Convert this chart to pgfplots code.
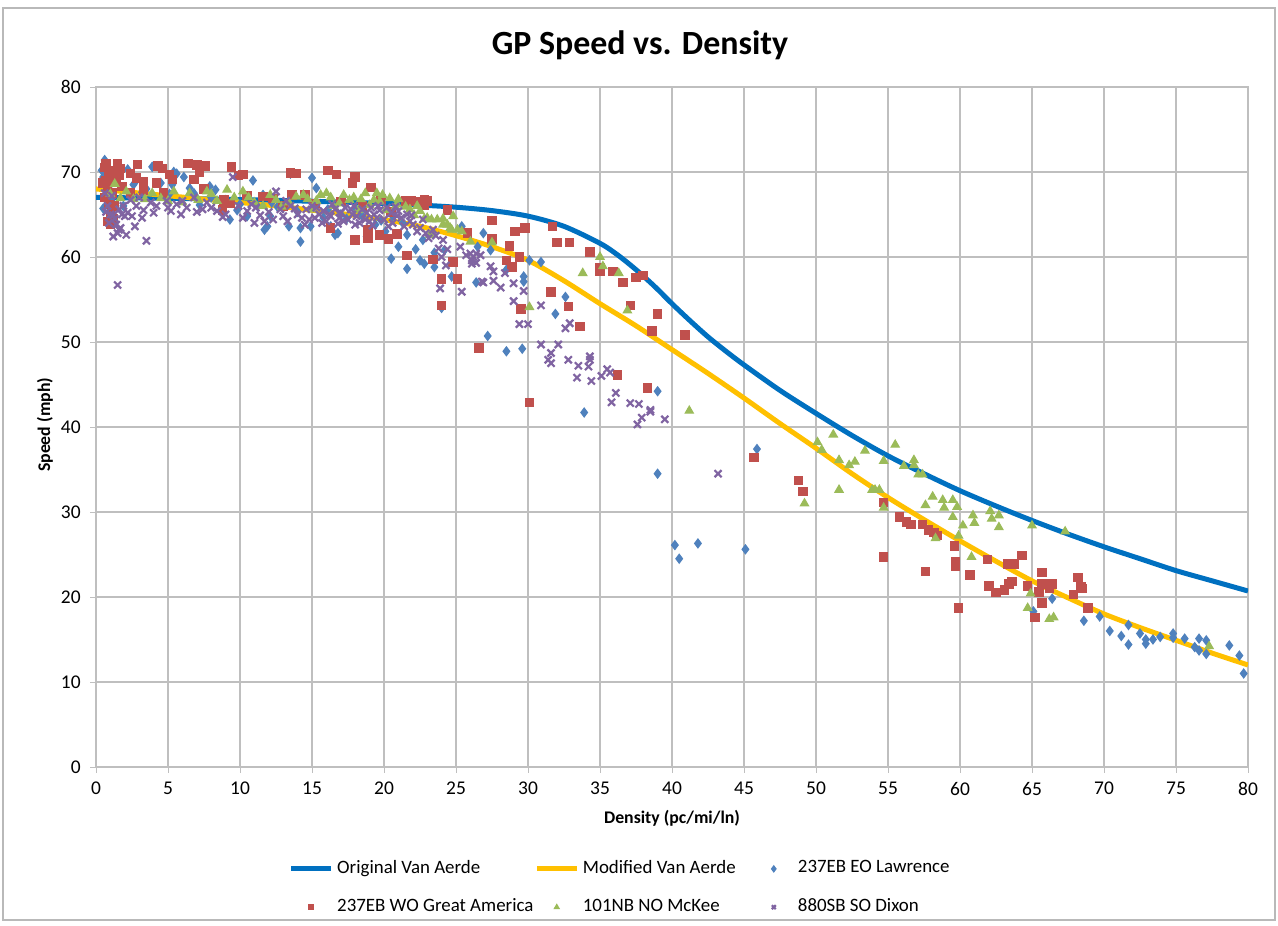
\documentclass[border=0pt]{standalone}
\usepackage{pgfplots}
\pgfplotsset{compat=1.18}
\usepackage{fontspec}
\setmainfont{Carlito}

\definecolor{vablue}{RGB}{0,112,192}
\definecolor{vagold}{RGB}{255,192,0}
\definecolor{lawblue}{RGB}{79,129,189}
\definecolor{gared}{RGB}{192,80,77}
\definecolor{mkgreen}{RGB}{155,187,89}
\definecolor{dxpurple}{RGB}{128,100,162}
\definecolor{gridgray}{RGB}{191,191,191}

\begin{document}
\begin{tikzpicture}
\path[use as bounding box] (-34.56pt,-57.2pt) rectangle (425.5pt,276.1pt);
\begin{axis}[
  scale only axis, width=414.7pt, height=244.8pt,
  at={(0pt,0pt)}, anchor=south west,
  xmin=0, xmax=80, ymin=0, ymax=80,
  xtick={0,5,...,80}, ytick={0,10,...,80},
  grid=major, grid style={gridgray, line width=0.5pt},
  axis line style={gridgray, line width=0.5pt},
  tick align=outside, major tick length=2pt, tick style={gridgray},
  xtick pos=bottom, ytick pos=left,
  /pgf/number format/assume math mode=true,
  tick label style={font=\fontsize{7}{8}\selectfont},
  xlabel={Density (pc/mi/ln)}, ylabel={Speed (mph)},
  xlabel style={font=\fontsize{6.4}{7}\selectfont\bfseries, at={(axis description cs:0.5,-0.075)}, anchor=center},
  ylabel style={font=\fontsize{6.4}{7}\selectfont\bfseries, at={(axis description cs:-0.0443,0.503)}, anchor=center},
  title={GP Speed vs. Density},
  title style={font=\fontsize{12.2}{14}\selectfont\bfseries, at={(axis description cs:0.4722,1.0617)}, anchor=center, yshift=-6pt},
  legend columns=3, legend cell align=left,
  legend style={draw=none, fill=none, at={(axis description cs:0.1667,-0.178)}, anchor=west,
    font=\fontsize{6.8}{8.2}\selectfont, row sep=3.6pt, inner xsep=0pt,
    nodes={inner xsep=0.3pt},
    /tikz/every even column/.append style={column sep=0pt},
    /tikz/every odd column/.append style={column sep=1.0pt}},
]
% fitted curves
\addplot[vablue, line width=1.8pt, smooth, no markers,
  legend image code/.code={\draw[line width=1.8pt] (0pt,0pt)--(14.4pt,0pt);}]
  coordinates {(0,67.0)(5,66.9)(10,66.75)(15,66.55)(20,66.3)(22.5,66.1)(25,65.85)(27.5,65.45)
  (30,64.8)(32.5,63.6)(35,61.6)(36.25,60.2)(37.5,58.5)(38.75,56.6)(40,54.5)(41.25,52.5)
  (42.5,50.6)(43.75,48.9)(45,47.3)(47.5,44.3)(50,41.6)(52.5,39.0)(55,36.6)(57.5,34.5)
  (60,32.5)(62.5,30.7)(65,29.0)(67.5,27.4)(70,25.9)(72.5,24.5)(75,23.1)(77.5,21.9)(80,20.7)};
\addlegendentry{Original Van Aerde}
\addplot[vagold, line width=1.8pt, smooth, no markers,
  legend image code/.code={\draw[line width=1.8pt] (0pt,0pt)--(14.4pt,0pt);}]
  coordinates {(0,68.0)(2.5,67.6)(5,67.2)(7.5,66.8)(10,66.4)(12.5,66.0)(15,65.5)(17.5,65.0)
  (20,64.4)(22.5,63.6)(25,62.5)(27.5,61.2)(30,59.6)(32.5,57.2)(35,54.5)(37.5,51.9)(40,49.1)
  (42.5,46.3)(45,43.4)(47.5,40.4)(50,37.5)(52.5,34.5)(55,31.7)(57.5,29.1)(60,26.6)(62.5,24.2)
  (65,21.9)(67.5,19.9)(70,18.0)(72.5,16.4)(75,14.9)(77.5,13.4)(80,12.0)};
\addlegendentry{Modified Van Aerde\rule{6pt}{0pt}}
% 237EB EO Lawrence
\addplot[only marks, mark=diamond*, mark size=1.6pt, color=lawblue,
  legend image code/.code={\path (0pt,0pt) (14.4pt,0pt);\draw[mark size=1.1pt] plot coordinates {(7.2pt,0pt)};}]
  coordinates {(0.6,71.4)(0.4,70.2)(0.5,69.4)(0.5,65.7)(0.9,68.3)(0.7,67.2)(1.1,66.5)(1.3,69.2)
  (1.9,66.0)(2.2,70.3)(2.8,69.0)(3.2,67.6)(3.9,70.6)(4.5,68.7)(5.1,67.4)(5.4,70.0)(5.6,69.8)
  (6.1,69.4)(5.3,68.5)(6.5,68.1)(7.0,66.9)(7.9,68.3)(8.3,67.9)(7.2,66.1)(8.8,66.4)(9.3,64.4)
  (9.8,65.5)(10.5,64.8)(10.9,69.0)(11.6,67.3)(11.9,63.6)(11.7,63.2)(12.1,64.8)(12.6,65.9)
  (13.5,69.8)(13.4,63.6)(14.2,61.8)(14.2,63.4)(14.9,63.6)(15.0,69.3)(15.3,68.1)(15.8,64.6)
  (16.3,63.6)(16.6,62.6)(16.8,62.8)(17.4,64.5)(18.0,65.8)(18.8,62.4)(19.4,63.8)(20.1,63.0)
  (16.1,65.6)(17.0,65.0)(18.5,64.8)(19.8,64.3)(20.6,64.8)(21.3,64.0)(14.0,65.3)(13.0,65.8)
  (12.2,66.4)(11.2,66.0)(10.0,66.2)(9.0,66.7)(8.0,67.0)(6.8,67.5)(3.5,68.0)(2.6,68.5)
  (20.5,59.8)(21.0,61.2)(21.6,58.6)(21.6,62.6)(22.2,60.9)(22.5,59.6)(22.7,62.0)(22.8,59.2)
  (23.5,58.8)(23.5,60.5)(24.2,60.8)(24.0,54.0)(24.7,57.7)(25.4,63.6)(26.5,61.2)(26.4,57.0)
  (26.9,62.8)(27.4,60.8)(27.2,50.7)(28.5,58.5)(28.5,48.9)(29.6,49.2)(29.7,57.7)(29.7,57.1)
  (30.1,59.6)(30.9,59.4)(31.9,53.3)(32.6,55.3)(33.9,41.7)(39.0,44.2)(39.0,34.5)(40.2,26.1)
  (40.5,24.5)(41.8,26.3)(45.1,25.6)(45.9,37.4)
  (65.1,18.3)(66.4,19.8)(68.6,17.2)(69.7,17.7)(70.4,16.0)(71.2,15.4)(71.7,16.7)(71.7,14.4)
  (72.5,15.7)(72.9,15.0)(72.9,14.5)(73.4,15.0)(73.9,15.3)(74.8,15.7)(74.8,15.2)(75.6,15.1)
  (76.3,14.1)(76.6,15.1)(76.6,13.7)(77.1,14.9)(77.1,13.3)(78.7,14.3)(79.4,13.1)(79.7,11.0)};
\addlegendentry{237EB EO Lawrence}
% 237EB WO Great America
\addplot[only marks, mark=square*, mark size=1.5pt, color=gared,
  legend image code/.code={\path (0pt,0pt) (14.4pt,0pt);\draw[mark size=0.9pt] plot coordinates {(7.2pt,0pt)};}]
  coordinates {(0.6,70.5)(0.7,69.0)(0.8,68.0)(0.6,67.0)(0.9,66.2)(1.0,65.0)(0.8,64.2)(1.2,70.2)
  (1.4,68.8)(1.1,67.5)(1.3,66.0)(1.6,69.6)(1.5,71.0)(1.8,68.3)(0.7,71.0)(1.0,63.8)
  (0.5,68.7)(1.2,64.5)(0.9,69.6)(1.7,70.4)
  (2.4,69.8)(2.8,69.3)(2.9,70.9)(3.3,68.9)(4.2,68.7)(4.3,70.7)(4.6,70.4)(5.1,69.7)(5.3,69.1)
  (3.3,67.9)(2.4,67.5)(4.7,67.5)(6.4,71.0)(7.0,70.8)(7.6,70.7)(7.2,70.0)(6.8,69.1)(7.5,68.0)
  (8.9,66.7)(8.8,65.5)(9.3,66.3)(9.4,70.6)(9.9,69.6)(10.2,69.7)(11.6,67.1)(12.3,66.9)
  (13.5,69.9)(13.9,69.8)(13.6,67.3)(14.5,67.3)(16.1,70.2)(16.7,69.7)(18.0,69.4)(17.8,68.7)
  (19.1,68.2)(16.3,63.4)(18.0,62.0)(18.9,62.2)(19.7,62.6)(18.9,63.2)(20.9,62.7)(20.3,62.1)
  (15.2,66.3)(17.0,66.5)(18.5,66.0)(19.8,66.8)(20.5,65.3)(13.0,66.0)(10.5,67.2)
  (21.5,66.6)(21.9,66.6)(22.3,66.5)(22.8,66.7)(22.8,66.1)(23.0,66.6)(24.4,65.5)(21.6,60.2)
  (23.4,59.7)(24.0,57.4)(25.1,57.4)(24.0,54.3)(24.8,59.4)(25.8,62.8)(27.5,64.3)(27.5,62.1)
  (28.7,61.3)(28.5,59.6)(28.9,58.8)(29.4,60.0)(29.1,63.0)(29.8,63.4)(31.7,63.6)(32.0,61.7)
  (32.9,61.7)(31.6,55.9)(32.8,54.2)(33.6,51.8)(34.3,60.6)(35.0,58.7)(35.0,58.3)(35.9,58.3)
  (36.6,57.0)(37.5,57.6)(38.0,57.8)(37.1,54.3)(39.0,53.3)(38.6,51.3)(40.9,50.8)(36.2,46.1)
  (38.3,44.6)(30.1,42.9)(26.6,49.3)(29.5,53.9)(45.7,36.4)(48.8,33.7)(49.1,32.4)(54.7,31.1)
  (54.7,24.7)(55.8,29.4)(56.3,28.8)(56.6,28.5)(57.4,28.5)(57.8,27.9)(58.2,27.6)(58.4,27.2)
  (57.6,23.0)(59.6,26.0)(59.7,24.1)(59.7,23.6)(59.9,18.7)(60.7,22.6)(61.9,24.4)(62.0,21.3)
  (62.5,20.5)(63.1,20.8)(63.4,21.5)(63.6,21.8)(63.3,23.9)(63.8,23.9)(64.3,24.9)(64.7,21.3)
  (65.2,17.6)(65.5,20.6)(65.7,22.9)(65.7,21.5)(65.7,19.3)(66.2,21.0)(66.4,21.5)(67.9,20.3)
  (68.2,22.3)(68.4,21.2)(68.5,21.0)(68.9,18.7)};
\addlegendentry{237EB WO Great America}
% 101NB NO McKee
\addplot[only marks, mark=triangle*, mark size=1.7pt, color=mkgreen,
  legend image code/.code={\path (0pt,0pt) (14.4pt,0pt);\draw[mark size=1.0pt] plot coordinates {(7.2pt,0pt)};}]
  coordinates {(1.3,68.6)(1.0,67.4)(2.1,67.7)(2.6,66.8)(3.9,67.5)(4.5,66.9)(5.4,67.7)(6.0,66.4)
  (6.5,67.5)(7.7,67.7)(8.4,66.6)(9.1,67.9)(10.2,67.7)(11.0,66.4)(12.1,67.3)(12.9,65.9)
  (13.9,67.1)(14.4,67.3)(15.0,65.6)(15.6,67.3)(16.0,67.5)(16.5,66.0)(17.2,67.3)(17.6,66.7)
  (18.2,65.5)(18.7,67.5)(19.5,67.5)(19.3,66.7)(19.9,67.3)(20.1,65.5)(20.8,65.9)(20.9,66.2)
  (15.3,66.6)(16.3,67.0)(16.9,66.3)(17.9,67.0)(18.4,66.8)(19.0,66.1)(19.7,66.5)(20.4,66.9)
  (21.0,66.8)(21.8,65.6)(22.3,66.0)(14.7,66.8)(13.4,66.4)(12.5,66.7)(11.6,66.0)(10.6,67.0)
  (9.6,67.0)(8.0,67.4)(7.1,66.7)(5.0,66.6)(3.4,66.8)(1.7,66.9)
  (21.5,65.9)(22.1,64.9)(22.5,65.4)(22.8,64.5)(23.0,64.6)(23.3,64.4)(23.7,64.4)(24.1,64.5)
  (24.1,63.8)(24.4,63.8)(24.6,63.4)(24.7,63.2)(24.8,64.8)(25.1,63.2)(25.4,63.0)(23.2,62.6)
  (26.0,61.8)(27.5,61.7)(30.1,54.1)(33.8,58.1)(35.0,60.0)(35.2,58.9)(36.3,58.1)(36.9,53.7)
  (41.2,41.9)(49.2,31.0)
  (50.1,38.2)(50.4,37.3)(51.2,39.1)(51.6,36.1)(51.6,32.6)(52.3,35.5)(52.7,35.9)(53.4,37.2)
  (53.9,32.6)(54.1,32.6)(54.4,32.6)(54.7,36.0)(54.7,30.5)(55.5,37.9)(56.1,35.4)(56.8,36.1)
  (56.8,35.5)(57.1,34.4)(57.4,34.4)(57.6,30.8)(58.1,31.8)(58.3,26.9)(58.8,31.4)(58.9,30.5)
  (59.5,31.4)(59.8,30.6)(59.5,29.4)(59.9,27.2)(60.2,28.4)(60.9,29.6)(61.0,28.7)(60.8,24.7)
  (62.1,30.1)(62.2,29.2)(62.7,29.6)(62.7,28.2)(65.0,28.4)(64.9,20.4)(64.7,18.7)(66.2,17.4)
  (66.5,17.6)(67.3,27.7)(77.3,14.2)};
\addlegendentry{101NB NO McKee}
% 880SB SO Dixon
\addplot[only marks, mark=x, mark size=1.8pt, color=dxpurple, mark options={line width=0.8pt},
  legend image code/.code={\path (0pt,0pt) (14.4pt,0pt);\draw[mark size=1.0pt] plot coordinates {(7.2pt,0pt)};}]
  coordinates {(0.6,67.5)(0.8,66.0)(1.0,65.0)(1.2,64.9)(1.4,63.8)(1.7,63.4)(1.3,64.5)(1.9,66.0)
  (1.1,67.2)(1.6,65.6)(2.0,64.8)(2.4,66.7)(2.2,65.2)(2.8,66.0)(3.3,65.5)(3.0,67.0)(3.5,61.9)
  (1.5,56.7)(0.9,64.0)(1.5,62.8)(1.6,63.2)(1.8,65.0)(2.5,64.8)(4.0,65.2)(5.9,65.0)
  (4.2,66.0)(4.9,66.6)(5.6,66.2)(5.2,65.4)(6.3,65.8)(6.8,67.0)(7.4,65.6)(7.7,66.4)(8.4,65.4)
  (9.0,65.0)(9.5,69.4)(9.9,66.0)(10.5,65.4)(11.1,65.8)(11.7,64.2)(12.5,67.7)(12.0,65.3)
  (13.0,64.8)(13.5,66.0)(14.0,65.0)(14.6,65.6)(15.2,64.6)(15.8,65.4)(16.3,64.8)(16.6,65.6)
  (17.0,65.2)(17.5,64.4)(18.1,64.8)(18.5,65.6)(19.0,64.2)(19.3,65.0)(19.7,65.5)(20.0,64.4)
  (20.5,65.2)(20.9,64.8)(21.4,63.6)(21.8,64.2)(22.3,63.0)(22.7,64.4)(23.1,62.2)(23.4,63.2)
  (15.5,65.0)(16.0,64.2)(16.9,64.6)(17.3,65.8)(17.8,65.0)(18.3,64.0)(18.8,65.2)(19.5,64.6)
  (20.2,65.8)(21.0,65.4)(14.8,64.4)(15.0,66.0)(16.4,66.2)(17.9,66.0)(19.1,65.8)(20.6,64.0)
  (21.6,65.0)(22.0,63.8)
  (10.2,64.6)(10.8,66.2)(11.4,64.9)(12.3,64.4)(12.8,65.6)(13.3,64.2)(13.8,65.7)(14.3,64.6)
  (15.3,65.8)(15.7,64.0)(16.2,65.0)(16.8,63.9)(17.2,64.2)(17.7,65.6)(18.0,63.8)(18.7,64.4)
  (19.2,63.7)(19.6,66.0)(20.3,63.6)(20.8,65.9)(21.2,64.6)(21.9,64.9)(22.5,63.4)(22.9,62.8)
  (23.6,62.5)(24.0,60.0)(24.3,59.0)(14.5,63.8)(13.2,66.6)(11.0,64.0)(8.8,64.7)(8.0,65.8)
  (7.0,65.3)(6.0,66.6)(5.0,65.8)(3.8,66.4)(3.2,64.6)(2.7,63.6)(2.1,62.6)(1.2,62.4)(0.7,65.3)
  (23.8,61.0)(24.1,62.0)(24.4,60.9)(25.3,61.2)(25.7,60.2)(26.0,60.4)(26.2,60.0)(26.4,59.3)
  (26.8,57.1)(25.4,55.9)(23.9,56.3)(26.1,59.2)(26.1,59.6)(26.7,60.2)(26.4,60.4)(27.4,58.9)
  (27.6,58.3)(26.9,57.0)(27.6,57.2)(28.1,56.4)(28.4,58.1)(29.0,56.9)(29.0,54.8)(29.7,56.0)
  (29.4,52.1)(30.0,52.1)(30.9,54.3)(30.9,49.7)(32.1,49.7)(31.6,48.7)(31.4,47.9)(31.6,47.5)
  (32.6,51.6)(32.9,52.2)(32.8,47.9)(33.5,47.2)(33.4,45.8)(34.3,48.3)(34.3,47.9)(34.2,47.1)
  (34.4,45.4)(35.1,46.0)(35.5,46.8)(35.7,46.4)(36.1,44.0)(35.8,42.9)(37.1,42.8)(37.7,42.7)
  (38.5,42.0)(38.5,41.8)(37.9,41.1)(37.6,40.3)(39.5,40.9)(43.2,34.5)};
\addlegendentry{880SB SO Dixon}
\end{axis}
\draw[gray!55, line width=0.6pt] (-33.5pt,-55.1pt) rectangle (424.4pt,273.2pt);
\end{tikzpicture}
\end{document}
